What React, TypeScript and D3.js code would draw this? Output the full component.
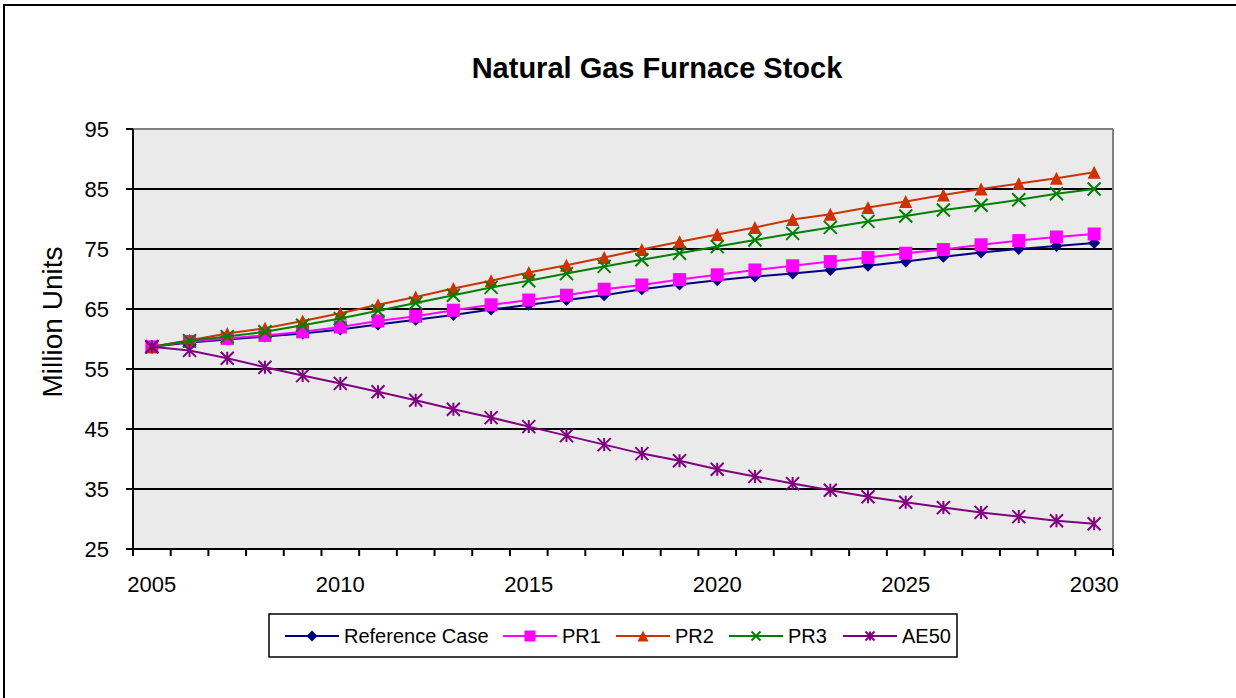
import React from "react";
import * as d3 from "d3";

const years = d3.range(2005, 2031);
const xTickLabels = [2005, 2010, 2015, 2020, 2025, 2030];
const yTicks = [25, 35, 45, 55, 65, 75, 85, 95];

const referenceCase = [58.7, 59.4, 59.9, 60.4, 60.9, 61.6, 62.4, 63.2, 64.0, 64.9, 65.7, 66.5, 67.3, 68.3, 69.1, 69.8, 70.4, 70.9, 71.5, 72.2, 72.9, 73.7, 74.4, 75.0, 75.5, 76.0];
const pr1 = [58.7, 59.6, 60.1, 60.6, 61.2, 62.0, 63.0, 63.8, 64.8, 65.7, 66.5, 67.3, 68.3, 69.0, 69.9, 70.7, 71.5, 72.2, 72.9, 73.6, 74.3, 74.9, 75.7, 76.4, 77.0, 77.5];
const pr2 = [58.7, 59.8, 60.9, 61.8, 63.0, 64.3, 65.7, 67.0, 68.4, 69.7, 71.1, 72.3, 73.6, 74.9, 76.2, 77.4, 78.6, 79.9, 80.8, 81.9, 82.9, 84.0, 85.0, 85.9, 86.8, 87.8];
const pr3 = [58.7, 59.7, 60.4, 61.2, 62.3, 63.4, 64.7, 66.0, 67.3, 68.6, 69.7, 70.9, 72.1, 73.2, 74.3, 75.4, 76.5, 77.6, 78.6, 79.6, 80.5, 81.5, 82.3, 83.2, 84.2, 85.0];
const ae50 = [58.7, 58.1, 56.8, 55.3, 53.9, 52.6, 51.2, 49.8, 48.3, 46.9, 45.4, 43.9, 42.4, 40.9, 39.7, 38.3, 37.1, 35.9, 34.8, 33.7, 32.8, 31.9, 31.1, 30.4, 29.7, 29.2];

const seriesNames = ["Reference Case", "PR1", "PR2", "PR3", "AE50"];
const seriesValues = [referenceCase, pr1, pr2, pr3, ae50];
const seriesColors = ["#000080", "#FF00FF", "#CC3300", "#008000", "#800080"];
const seriesMarkers = ["diamond", "square", "triangle", "x", "star"];

const FONT = "'Liberation Sans', Arial, sans-serif";

function Marker({ type, x, y, s, color }: { type: string; x: number; y: number; s: number; color: string }) {
  const h = s / 2;
  if (type === "diamond") {
    return <path d={`M${x},${y - h}L${x + h},${y}L${x},${y + h}L${x - h},${y}Z`} fill={color} />;
  }
  if (type === "square") {
    return <rect x={x - h} y={y - h} width={s} height={s} fill={color} />;
  }
  if (type === "triangle") {
    return <path d={`M${x},${y - h}L${x + h},${y + h}L${x - h},${y + h}Z`} fill={color} />;
  }
  if (type === "x") {
    return <path d={`M${x - h},${y - h}L${x + h},${y + h}M${x - h},${y + h}L${x + h},${y - h}`} stroke={color} strokeWidth={2} fill="none" />;
  }
  return (
    <path
      d={`M${x - h},${y - h}L${x + h},${y + h}M${x - h},${y + h}L${x + h},${y - h}M${x},${y - h}L${x},${y + h}`}
      stroke={color}
      strokeWidth={2}
      fill="none"
    />
  );
}

export default function App() {
  const W = 1236;
  const H = 698;
  const left = 133;
  const right = 1113;
  const top = 129;
  const bottom = 549;

  const x = d3.scaleBand<number>().domain(years).range([left, right]).padding(0);
  const cx = (yr: number) => (x(yr) as number) + x.bandwidth() / 2;
  const y = d3.scaleLinear().domain([25, 95]).range([bottom, top]);

  const line = d3
    .line<number>()
    .x((_, i) => cx(years[i]))
    .y((v) => y(v));

  const boundaries = years.map((yr) => x(yr) as number).concat([right]);

  const legendX = [285, 503, 616, 729, 843];
  const legendY = 636;

  return (
    <svg width={W} height={H} style={{ position: "absolute", left: 0, top: 0, background: "#fff" }} fontFamily={FONT}>
      <rect x={4} y={5} width={W + 10} height={H + 10} fill="#fff" stroke="#000" strokeWidth={2} />
      <text x={657} y={78} textAnchor="middle" fontSize={29} fontWeight="bold" fill="#000">
        Natural Gas Furnace Stock
      </text>

      <rect x={left} y={top} width={right - left} height={bottom - top} fill="#EAEAEA" />
      {yTicks
        .filter((t) => t !== 25 && t !== 95)
        .map((t) => (
          <line key={t} x1={left} x2={right} y1={y(t)} y2={y(t)} stroke="#000" strokeWidth={1.8} />
        ))}
      <line x1={left} x2={right} y1={top} y2={top} stroke="#808080" strokeWidth={2} />
      <line x1={right} x2={right} y1={top} y2={bottom} stroke="#808080" strokeWidth={2} />

      {seriesValues.map((vals, si) => (
        <g key={seriesNames[si]}>
          <path d={line(vals) as string} fill="none" stroke={seriesColors[si]} strokeWidth={2} />
          {vals.map((v, i) => (
            <Marker key={i} type={seriesMarkers[si]} x={cx(years[i])} y={y(v)} s={seriesMarkers[si] === "diamond" ? 12 : 13} color={seriesColors[si]} />
          ))}
        </g>
      ))}

      <line x1={left} x2={left} y1={top} y2={bottom} stroke="#000" strokeWidth={2} />
      <line x1={left} x2={right} y1={bottom} y2={bottom} stroke="#000" strokeWidth={2} />
      {yTicks.map((t) => (
        <g key={t}>
          <line x1={left - 7} x2={left} y1={y(t)} y2={y(t)} stroke="#000" strokeWidth={2} />
          <text x={109} y={y(t)} dy="0.36em" textAnchor="end" fontSize={22} fill="#000">
            {t}
          </text>
        </g>
      ))}
      {boundaries.map((b, i) => (
        <line key={i} x1={b} x2={b} y1={bottom} y2={bottom + 7} stroke="#000" strokeWidth={2} />
      ))}
      {xTickLabels.map((t) => (
        <text key={t} x={cx(t)} y={592} textAnchor="middle" fontSize={22} fill="#000">
          {t}
        </text>
      ))}
      <text transform="translate(62,322) rotate(-90)" textAnchor="middle" fontSize={28} fill="#000">
        Million Units
      </text>

      <rect x={269} y={614} width={688} height={43} fill="#fff" stroke="#000" strokeWidth={1.5} />
      {seriesNames.map((name, i) => (
        <g key={name}>
          <line x1={legendX[i]} x2={legendX[i] + 54} y1={legendY} y2={legendY} stroke={seriesColors[i]} strokeWidth={2} />
          <Marker type={seriesMarkers[i]} x={legendX[i] + 27} y={legendY} s={seriesMarkers[i] === "x" || seriesMarkers[i] === "star" ? 9 : 11} color={seriesColors[i]} />
          <text x={legendX[i] + 59} y={legendY} dy="0.36em" fontSize={20} fill="#000">
            {name}
          </text>
        </g>
      ))}
    </svg>
  );
}
